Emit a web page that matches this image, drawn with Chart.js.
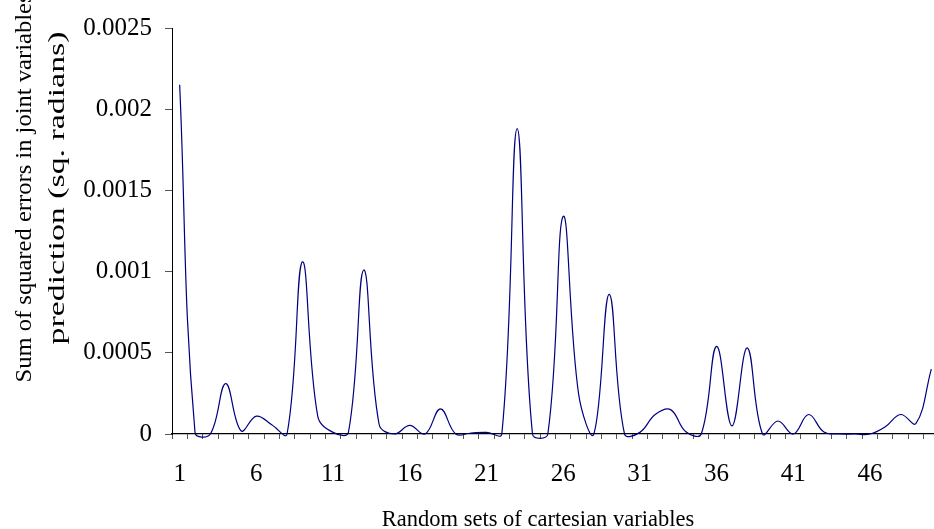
<!DOCTYPE html>
<html>
<head>
<meta charset="utf-8">
<script src="https://cdn.jsdelivr.net/npm/chart.js@4.4.1/dist/chart.umd.min.js"></script>
<style>
  html, body { margin: 0; padding: 0; background: #fff; overflow: hidden; }
  #wrap { width: 940px; height: 529px; }
</style>
</head>
<body>
<div id="wrap"><canvas id="errChart"></canvas></div>
<script>
// Data
const setLabels = ['1','2','3','4','5','6','7','8','9','10',
  '11','12','13','14','15','16','17','18','19','20',
  '21','22','23','24','25','26','27','28','29','30',
  '31','32','33','34','35','36','37','38','39','40',
  '41','42','43','44','45','46','47','48','49','50'];

const sqErrors = [0.00215, 0.00001, 0.0, 0.00031, 0.00002, 0.00011, 0.000057, 0.0, 0.00106, 0.00011,
  0.00001, 0.00001, 0.00101, 0.00006, 0.0, 0.000053, 0.0, 0.000155, 0.0, 0.000006,
  0.00001, 0.0, 0.00188, 0.0, 0.0, 0.00134, 0.00025, 0.0, 0.00086, 0.0,
  0.00001, 0.00012, 0.00015, 0.000014, 0.0, 0.00054, 0.00005, 0.00053, 0.0, 0.00008,
  0.0, 0.00012, 0.000012, 0.0, 0.0, 0.0, 0.000045, 0.00012, 0.000065, 0.0004];

const yTicks = [0, 0.0005, 0.001, 0.0015, 0.002, 0.0025];
const xTitle = 'Random sets of cartesian variables';
const yTitleLines = ['Sum of squared errors in joint variables', 'prediction (sq. radians)'];

const serif = '"Liberation Serif", "Times New Roman", serif';

// axis titles sit off-centre (and the y one is stretched) in the original, so draw them by hand
const titlesPlugin = {
  id: 'axisTitles',
  afterDraw(chart) {
    const ctx = chart.ctx;
    const spots = [
      { x: 25, len: 389, size: 23 },
      { x: 58, len: 313, size: 24 }
    ];
    ctx.save();
    ctx.fillStyle = '#000';
    ctx.textAlign = 'center';
    ctx.textBaseline = 'middle';
    yTitleLines.forEach((line, i) => {
      ctx.font = spots[i].size + 'px ' + serif;
      const w = ctx.measureText(line).width;
      ctx.save();
      ctx.translate(spots[i].x, 188);
      ctx.rotate(-Math.PI / 2);
      ctx.scale(spots[i].len / w, 1);
      ctx.fillText(line, 0, 0);
      ctx.restore();
    });

    ctx.font = '22.5px ' + serif;
    ctx.textBaseline = 'alphabetic';
    ctx.fillText(xTitle, 538, 526);
    ctx.restore();
  }
};

const ctx = document.getElementById('errChart').getContext('2d');
new Chart(ctx, {
  type: 'line',
  data: {
    labels: setLabels,
    datasets: [{
      data: sqErrors,
      borderColor: '#000080',
      borderWidth: 1.2,
      pointRadius: 0,
      tension: 0.4,
      fill: false,
      clip: false
    }]
  },
  options: {
    responsive: true,
    maintainAspectRatio: false,
    animation: false,
    layout: { padding: { top: 24, right: 1, left: 0, bottom: 0 } },
    elements: { line: { capBezierPoints: false } },
    plugins: { legend: { display: false }, tooltip: { enabled: false } },
    scales: {
      x: {
        type: 'category',
        offset: true,
        grid: { offset: true, drawOnChartArea: false, tickLength: 5, color: '#555' },
        border: { color: '#000', width: 1.2 },
        ticks: {
          autoSkip: false,
          maxRotation: 0,
          padding: 20,
          color: '#000',
          font: { family: serif, size: 25 },
          callback: (v, i) => (i % 5 === 0 ? setLabels[i] : '')
        },
        afterFit: s => {
          s.height = 95;
          s.paddingLeft = 0;
          s.paddingRight = 0;
        }
      },
      y: {
        min: 0,
        max: 0.0025,
        afterBuildTicks: s => { s.ticks = yTicks.map(v => ({ value: v })); },
        grid: { drawOnChartArea: false, tickLength: 7, color: '#555' },
        border: { color: '#000', width: 1 },
        ticks: {
          padding: 13,
          color: '#000',
          font: { family: serif, size: 25 },
          callback: v => String(Number(v.toFixed(4)))
        },
        afterFit: s => { s.width = 172; }
      }
    }
  },
  plugins: [titlesPlugin]
});
</script>
</body>
</html>
